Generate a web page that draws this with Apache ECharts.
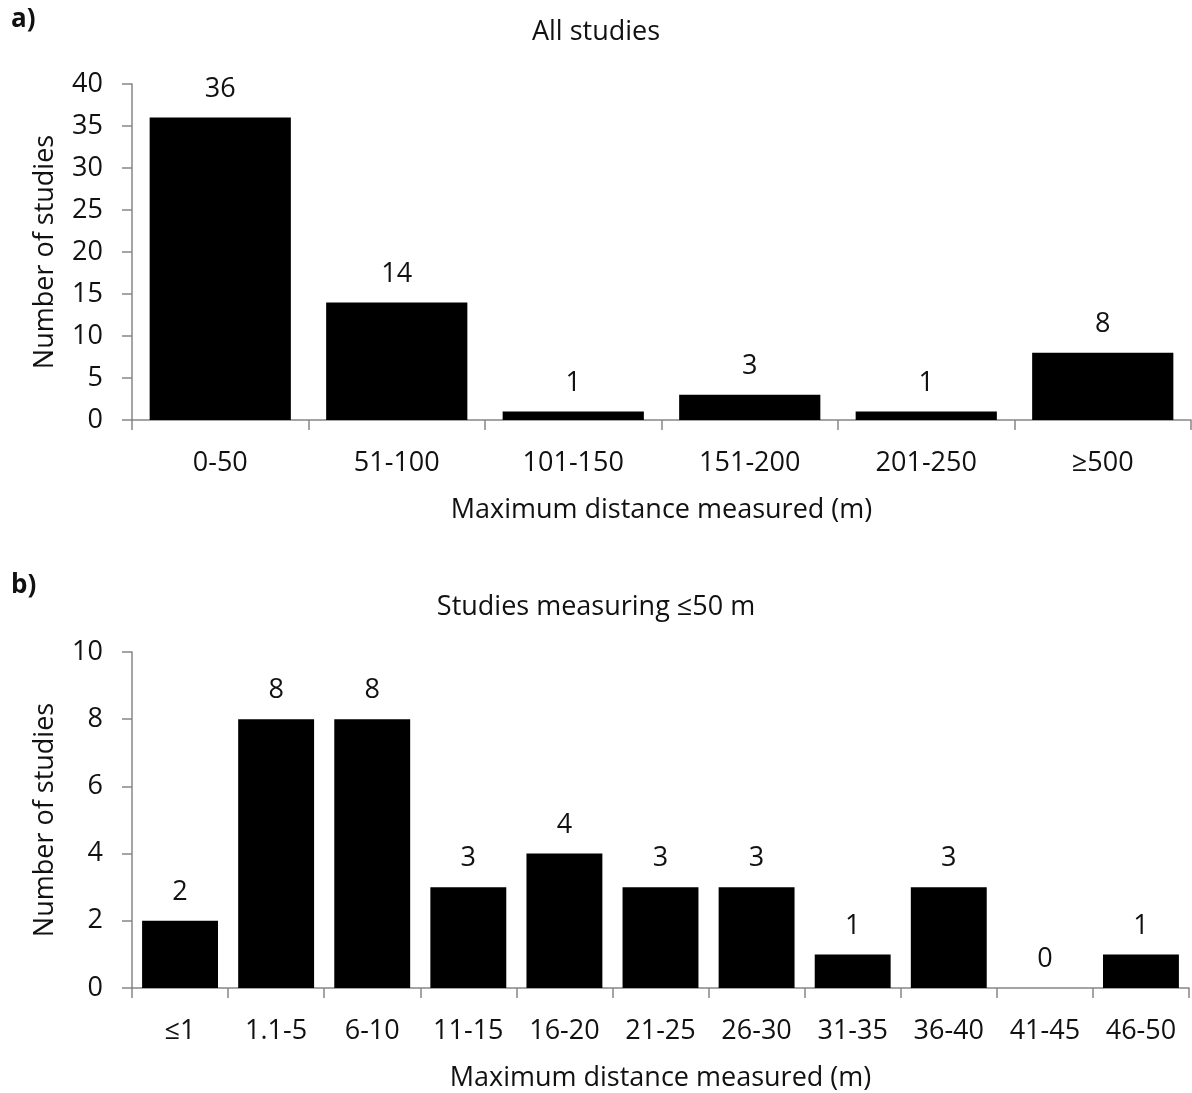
<!DOCTYPE html>
<html><head><meta charset="utf-8">
<script src="https://cdn.jsdelivr.net/npm/echarts@6/dist/echarts.min.js"></script>
<style>html,body{margin:0;padding:0;background:#fff}#c{width:1192px;height:1093px}</style>
</head><body><div id="c"></div>
<script>
const catsA = ['0-50','51-100','101-150','151-200','201-250','\u2265500'];
const valsA = [36,14,1,3,1,8];
const catsB = ['\u22641','1.1-5','6-10','11-15','16-20','21-25','26-30','31-35','36-40','41-45','46-50'];
const valsB = [2,8,8,3,4,3,3,1,3,0,1];
const FONT = '"Open Sans", "Noto Sans", sans-serif';
const TXT = '#111';
const AX = '#868686';
const FS = 27;
function xAxis(i, cats){
  return {type:'category', gridIndex:i, data:cats,
    axisLine:{lineStyle:{color:AX,width:1.5}},
    axisTick:{show:true, alignWithLabel:false, length:10, lineStyle:{color:AX,width:1.5}},
    axisLabel:{color:TXT, fontFamily:FONT, fontSize:FS, margin:30},
    name:'Maximum distance measured (m)', nameLocation:'middle', nameGap:77,
    nameTextStyle:{color:TXT, fontFamily:FONT, fontSize:FS}};
}
function yAxis(i, max, interval){
  return {type:'value', gridIndex:i, min:0, max:max, interval:interval,
    axisLine:{show:true, lineStyle:{color:AX,width:1.5}},
    axisTick:{show:true, length:10, lineStyle:{color:AX,width:1.5}},
    splitLine:{show:false},
    axisLabel:{color:TXT, fontFamily:FONT, fontSize:FS, margin:29},
    name:'Number of studies', nameLocation:'middle', nameGap:73, nameRotate:90,
    nameTextStyle:{color:TXT, fontFamily:FONT, fontSize:FS}};
}
function bar(i, vals, gap){
  return {type:'bar', xAxisIndex:i, yAxisIndex:i, data:vals, barCategoryGap:gap,
    itemStyle:{color:'#000'},
    label:{show:true, position:'top', distance:15, color:TXT, fontFamily:FONT, fontSize:FS}};
}
const chart = echarts.init(document.getElementById('c'), null, {renderer:'canvas'});
chart.setOption({
  animation:false,
  title:[
    {text:'All studies', left:'center', top:14, textStyle:{color:TXT, fontFamily:FONT, fontSize:FS, fontWeight:'normal'}},
    {text:'Studies measuring \u226450 m', left:'center', top:589, textStyle:{color:TXT, fontFamily:FONT, fontSize:FS, fontWeight:'normal'}},
    {text:'a)', left:6, top:2, textStyle:{color:TXT, fontFamily:FONT, fontSize:26, fontWeight:'bold'}},
    {text:'b)', left:6, top:568, textStyle:{color:TXT, fontFamily:FONT, fontSize:26, fontWeight:'bold'}}
  ],
  grid:[
    {left:132, right:1, top:84, height:336, outerBoundsMode:'none', containLabel:false},
    {left:132, right:3, top:652, height:336, outerBoundsMode:'none', containLabel:false}
  ],
  xAxis:[xAxis(0,catsA), xAxis(1,catsB)],
  yAxis:[yAxis(0,40,5), yAxis(1,10,2)],
  series:[bar(0,valsA,'20%'), bar(1,valsB,'21%')]
});
</script></body></html>
